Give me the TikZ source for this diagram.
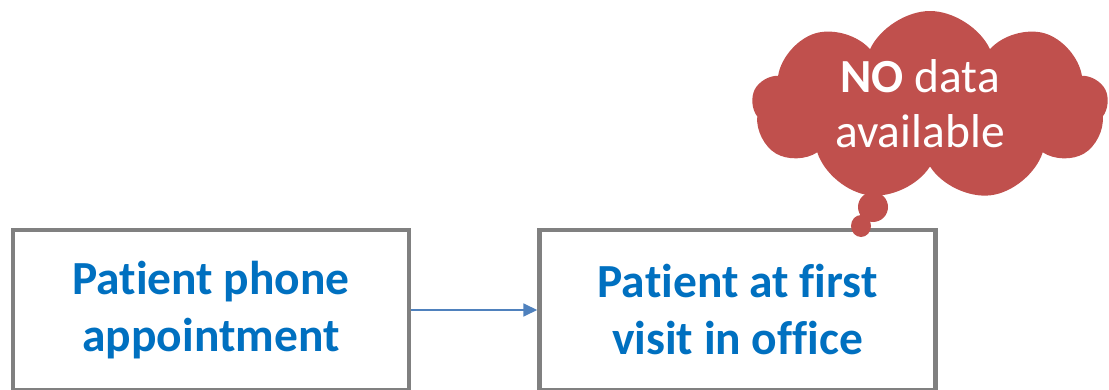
\documentclass[tikz,border=0pt]{standalone}
\usepackage{fontspec}
\setmainfont{Carlito}[Ligatures=NoCommon]
\usetikzlibrary{arrows.meta, positioning, shapes.symbols}
\definecolor{mframe}{HTML}{808080}
\definecolor{mtext}{HTML}{0070C0}
\definecolor{marrow}{HTML}{4F81BD}
\definecolor{mcloud}{HTML}{C0504D}
\tikzset{
  stagebox/.style={draw=mframe, line width=4.5pt, fill=white,
                   minimum width=396pt, minimum height=160pt,
                   text=mtext, align=center,
                   font=\fontsize{47.5}{57}\selectfont\bfseries},
  flowarr/.style={-{Triangle[length=14pt, width=13pt]}, line width=1.8pt, marrow},
  bubble/.style={cloud, cloud puffs=9, cloud puff arc=130, aspect=1.9,
                 fill=mcloud, draw=none, inner sep=0pt},
  bubbletext/.style={text=white, align=center,
                     font=\fontsize{47.5}{55}\selectfont},
}

\begin{document}
\begin{tikzpicture}[x=1pt, y=1pt]
  \useasboundingbox (0,0) rectangle (1109,389);
  \clip (0,0) rectangle (1109,389);

  % the two stages
  \node[stagebox] (phone) at (211, 79) {Patient phone\\appointment};
  \node[stagebox] (visit) at (737.5, 79) {Patient at first\\visit in office};
  \draw[flowarr] (phone.east) -- (visit.west);

  % thought cloud over the second stage
  \node[bubble, minimum width=356pt, minimum height=190pt] (nodata) at (930, 283) {};
  \fill[mcloud] (873, 182) circle (15pt);
  \fill[mcloud] (861, 163) ellipse (10pt and 11pt);
  \node[bubbletext] (nodatatext) at (920, 285) {\textbf{NO} data\\available};
\end{tikzpicture}
\end{document}
